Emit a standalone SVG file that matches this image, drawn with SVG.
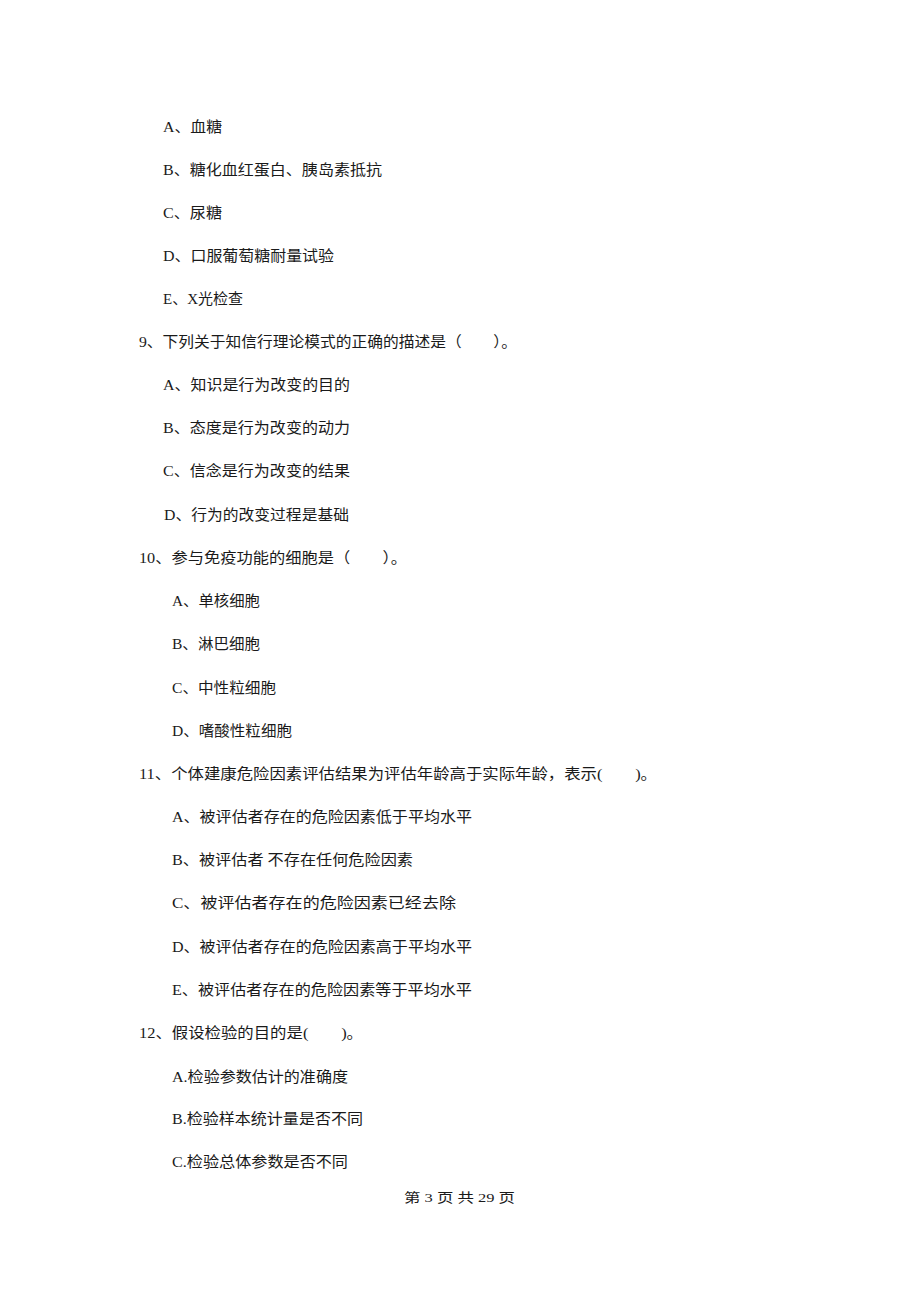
<svg xmlns="http://www.w3.org/2000/svg" width="920" height="1302" viewBox="0 0 920 1302">
<style>
text{font-family:"Liberation Serif","Noto Sans CJK SC",serif;font-size:15px;fill:#1a1a1a;white-space:pre}
.ft{font-size:13px}
</style>
<rect width="920" height="1302" fill="#ffffff"/>
<g id="q8-options">
<text x="163" y="132" textLength="59" lengthAdjust="spacingAndGlyphs">A、血糖</text>
<text x="163" y="175" textLength="219" lengthAdjust="spacingAndGlyphs">B、糖化血红蛋白、胰岛素抵抗</text>
<text x="163" y="218" textLength="59" lengthAdjust="spacingAndGlyphs">C、尿糖</text>
<text x="163" y="261" textLength="171" lengthAdjust="spacingAndGlyphs">D、口服葡萄糖耐量试验</text>
<text x="163" y="304" textLength="80" lengthAdjust="spacingAndGlyphs">E、X光检查</text>
</g>
<g id="q9">
<text x="139" y="347" textLength="378" lengthAdjust="spacingAndGlyphs">9、下列关于知信行理论模式的正确的描述是（　　）。</text>
<text x="163" y="390" textLength="187" lengthAdjust="spacingAndGlyphs">A、知识是行为改变的目的</text>
<text x="163" y="433" textLength="187" lengthAdjust="spacingAndGlyphs">B、态度是行为改变的动力</text>
<text x="163" y="476" textLength="187" lengthAdjust="spacingAndGlyphs">C、信念是行为改变的结果</text>
<text x="164" y="520" textLength="185" lengthAdjust="spacingAndGlyphs">D、行为的改变过程是基础</text>
</g>
<g id="q10">
<text x="139" y="563" textLength="268" lengthAdjust="spacingAndGlyphs">10、参与免疫功能的细胞是（　　）。</text>
<text x="172" y="606" textLength="88" lengthAdjust="spacingAndGlyphs">A、单核细胞</text>
<text x="172" y="649" textLength="88" lengthAdjust="spacingAndGlyphs">B、淋巴细胞</text>
<text x="172" y="693" textLength="104" lengthAdjust="spacingAndGlyphs">C、中性粒细胞</text>
<text x="172" y="736" textLength="120" lengthAdjust="spacingAndGlyphs">D、嗜酸性粒细胞</text>
</g>
<g id="q11">
<text x="139" y="779" textLength="518" lengthAdjust="spacingAndGlyphs">11、个体建康危险因素评估结果为评估年龄高于实际年龄，表示(　　)。</text>
<text x="172" y="822" textLength="300" lengthAdjust="spacingAndGlyphs">A、被评估者存在的危险因素低于平均水平</text>
<text x="172" y="865" textLength="241" lengthAdjust="spacingAndGlyphs">B、被评估者 不存在任何危险因素</text>
<text x="172" y="908" textLength="284" lengthAdjust="spacingAndGlyphs">C、被评估者存在的危险因素已经去除</text>
<text x="172" y="952" textLength="300" lengthAdjust="spacingAndGlyphs">D、被评估者存在的危险因素高于平均水平</text>
<text x="172" y="995" textLength="300" lengthAdjust="spacingAndGlyphs">E、被评估者存在的危险因素等于平均水平</text>
</g>
<g id="q12">
<text x="139" y="1038" textLength="224" lengthAdjust="spacingAndGlyphs">12、假设检验的目的是(　　)。</text>
<text x="172" y="1082" textLength="176" lengthAdjust="spacingAndGlyphs">A.检验参数估计的准确度</text>
<text x="172" y="1124" textLength="191" lengthAdjust="spacingAndGlyphs">B.检验样本统计量是否不同</text>
<text x="172" y="1167" textLength="176" lengthAdjust="spacingAndGlyphs">C.检验总体参数是否不同</text>
</g>
<g id="footer">
<text class="ft" x="404" y="1202" textLength="111" lengthAdjust="spacingAndGlyphs">第 3 页 共 29 页</text>
</g>
</svg>
